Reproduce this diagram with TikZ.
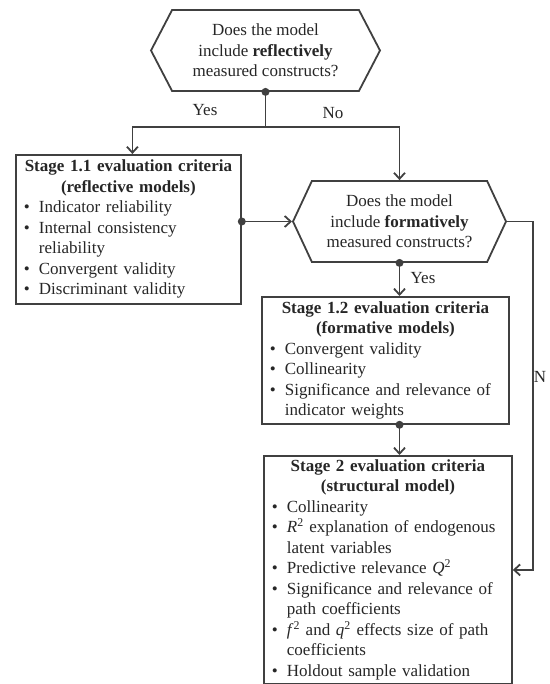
\documentclass[tikz,border=0pt]{standalone}
\usepackage{fontspec}
\setmainfont{Liberation Serif}
\usetikzlibrary{shapes.symbols,arrows.meta}
\newcommand{\itm}{\makebox[15pt][l]{\textbullet}}
\newcommand{\hng}{\hspace*{15pt}}
\begin{document}
\begin{tikzpicture}[x=1pt, y=-1pt, line width=1.8pt, color=black!75,
	every node/.style={font=\fontsize{17}{20.5}\selectfont, text=black!85},
	crit/.style={draw, rectangle, anchor=north west, align=left, inner xsep=8pt, inner ysep=3pt},
	query/.style={draw, signal, signal to=west and east, align=center, inner sep=2pt, minimum height=81pt},
	flow/.style={-{Straight Barb[length=6pt,width=11pt]}}]
	\useasboundingbox (0,0) rectangle (549,684);

	\node[query, minimum width=229pt, signal pointer angle=125] (q1) at (265.5,50.5) {Does the model\\include \textbf{reflectively}\\measured constructs?};
	\node[query, minimum width=213pt, signal pointer angle=130] (q2) at (399.5,221.5) {Does the model\\include \textbf{formatively}\\measured constructs?};

	\node[crit, text width=209pt, minimum height=149pt] (s11) at (15,154) {{\centering\bfseries Stage 1.1 evaluation criteria\\(reflective models)\par}\itm Indicator reliability\\\itm Internal consistency\\\hng reliability\\\itm Convergent validity\\\itm Discriminant validity};
	\node[crit, text width=231pt, minimum height=127pt] (s12) at (261,296) {{\centering\bfseries Stage 1.2 evaluation criteria\\(formative models)\par}\itm Convergent validity\\\itm Collinearity\\\itm Significance and relevance of\\\hng indicator weights};
	\node[crit, text width=232pt, minimum height=228pt] (s2) at (263,455) {{\centering\bfseries Stage 2 evaluation criteria\\(structural model)\par}\itm Collinearity\\\itm \textit{R}\textsuperscript{2} explanation of endogenous\\\hng latent variables\\\itm Predictive relevance \textit{Q}\textsuperscript{2}\\\itm Significance and relevance of\\\hng path coefficients\\\itm \textit{f}\textsuperscript{2} and \textit{q}\textsuperscript{2} effects size of path\\\hng coefficients\\\itm Holdout sample validation};

	\node (yes1) at (205,110) {Yes};
	\node (no1) at (333,113) {No};
	\node (yes2) at (423,278) {Yes};
	\node (no2) at (540,377) {N};

	\draw (q1.south) -- ++(0,35) coordinate (split);
	\draw[flow] (split) -| ([xshift=4pt]s11.north);
	\draw[flow] (split) -| (q2.north);
	\draw[flow] (s11.east |- q2.west) -- (q2.west);
	\draw[flow] (q2.south) -- (s12.north -| q2.south);
	\draw[flow] (s12.south -| q2.south) -- (s2.north -| q2.south);
	\draw[flow] (q2.east) -- ++(26,0) |- (s2.east);

	\fill (q1.south) circle (4pt);
	\fill (s11.east |- q2.west) circle (4pt);
	\fill (q2.south) circle (4pt);
	\fill (s12.south -| q2.south) circle (4pt);
\end{tikzpicture}
\end{document}
